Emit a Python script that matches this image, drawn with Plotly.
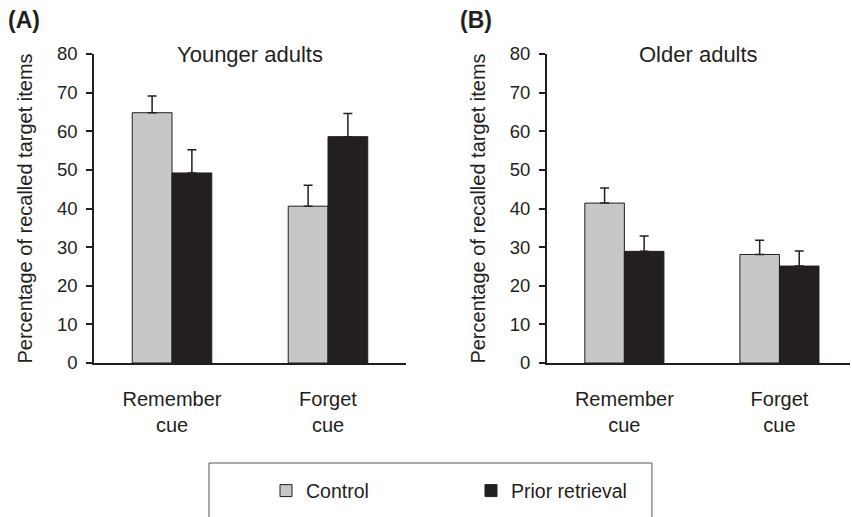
import plotly.graph_objects as go

# data --------------------------------------------------------------------
cues = ["Remember<br>cue", "Forget<br>cue"]

young_control = [64.8, 40.6]
young_control_err = [4.3, 5.4]
young_prior = [49.2, 58.6]
young_prior_err = [6.0, 6.0]

older_control = [41.4, 28.1]
older_control_err = [3.9, 3.7]
older_prior = [28.9, 25.1]
older_prior_err = [4.0, 3.9]

GREY = "#c6c7c9"
BLACK = "#231f20"
FONT = "Liberation Sans, Arial, sans-serif"


def bar(x, y, err, color, name, xa, ya, legend):
    return go.Bar(
        x=x, y=y, name=name, xaxis=xa, yaxis=ya,
        marker=dict(color=color, line=dict(color=BLACK, width=1)),
        error_y=dict(type="data", array=err, arrayminus=[0] * len(err),
                     symmetric=False, color=BLACK, thickness=1.5, width=4.5),
        showlegend=legend,
    )


fig = go.Figure()
fig.add_trace(bar(cues, young_control, young_control_err, GREY, "Control", "x", "y", True))
fig.add_trace(bar(cues, young_prior, young_prior_err, BLACK, "Prior retrieval", "x", "y", True))
fig.add_trace(bar(cues, older_control, older_control_err, GREY, "Control", "x2", "y2", False))
fig.add_trace(bar(cues, older_prior, older_prior_err, BLACK, "Prior retrieval", "x2", "y2", False))

xstyle = dict(showline=True, linecolor=BLACK, linewidth=1.5, ticks="", ticklabelstandoff=17,
              tickfont=dict(size=20, color="#231f20"), showgrid=False, zeroline=False)
ystyle = dict(showline=True, linecolor=BLACK, linewidth=1.5, ticks="outside", ticklen=6,
              tickcolor=BLACK, tickwidth=1.5, range=[0, 80], dtick=10, ticklabelstandoff=5,
              tickfont=dict(size=18.5, color="#231f20"), showgrid=False, zeroline=False,
              title=dict(text="Percentage of recalled target items",
                         font=dict(size=20, color="#231f20"), standoff=19))

fig.update_layout(
    width=852, height=517,
    margin=dict(l=94, r=2, t=54, b=154),
    paper_bgcolor="white", plot_bgcolor="white",
    font=dict(family=FONT, color="#231f20"),
    barmode="group", bargap=0.49, bargroupgap=0,
    xaxis=dict(domain=[0, 0.4127], range=[-0.5, 1.5], anchor="y", **xstyle),
    yaxis=dict(anchor="x", **ystyle),
    xaxis2=dict(domain=[0.599, 1], range=[-0.5, 1.455], anchor="y2", **xstyle),
    yaxis2=dict(anchor="x2", **ystyle),
    legend=dict(orientation="h", x=0.2275, xanchor="left", y=-0.414, yanchor="middle",
                font=dict(size=19.5), entrywidth=160, bgcolor="rgba(0,0,0,0)"),
    showlegend=True,
)

fig.add_annotation(text="Younger adults", xref="x domain", yref="paper", x=0.5, y=1.0,
                   yanchor="middle", showarrow=False, font=dict(size=22))
fig.add_annotation(text="Older adults", xref="x2 domain", yref="paper", x=0.5, y=1.0,
                   yanchor="middle", showarrow=False, font=dict(size=22))
fig.add_annotation(text="<b>(A)</b>", xref="paper", yref="paper", x=-0.1164, y=1.11,
                   xanchor="left", yanchor="middle", showarrow=False, font=dict(size=23))
fig.add_annotation(text="<b>(B)</b>", xref="paper", yref="paper", x=0.4815, y=1.11,
                   xanchor="left", yanchor="middle", showarrow=False, font=dict(size=23))

# legend frame (runs off the bottom edge, as in the original)
fig.add_shape(type="rect", xref="paper", yref="paper", x0=0.1521, x1=0.738,
              y0=-0.3236, y1=-0.56, line=dict(color="#555555", width=1))

fig.write_html("out.html", config={"displayModeBar": False},
               post_script="document.body.style.margin='0';")
